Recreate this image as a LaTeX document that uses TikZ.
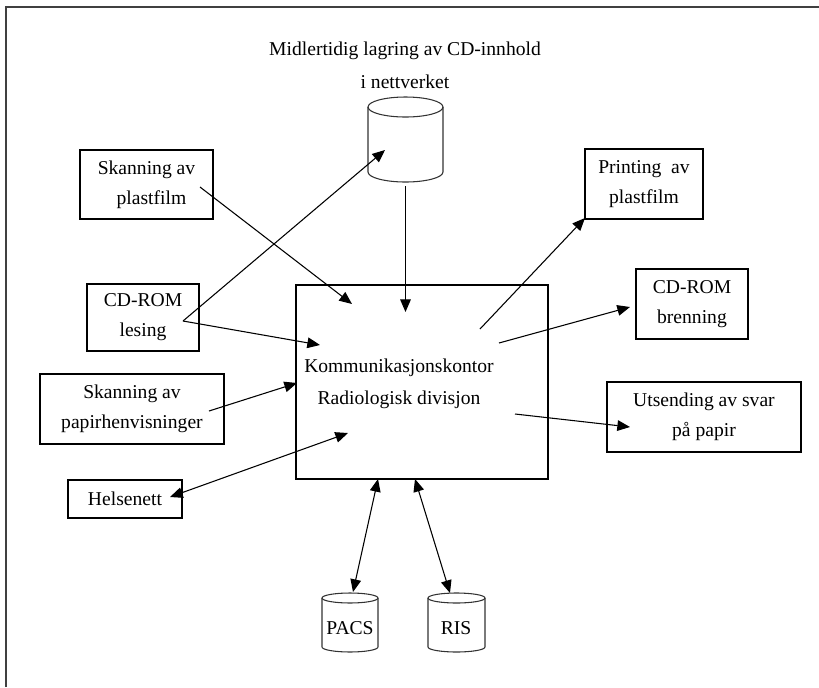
\documentclass[tikz,border=0pt]{standalone}
\usepackage{fontspec}
\setmainfont{Liberation Serif}
\usetikzlibrary{arrows.meta}
\begin{document}
\begin{tikzpicture}[x=0.75pt,y=-0.75pt,
  box/.style={draw,line width=1.7pt,align=center,inner sep=0pt,
    font=\fontsize{14.7}{22.5}\selectfont},
  conn/.style={line width=0.8pt,-{Triangle[length=9.5pt,width=8pt]}},
  biconn/.style={line width=0.8pt,{Triangle[length=9.5pt,width=8pt]}-{Triangle[length=9.5pt,width=8pt]}},
  cyl/.style={line width=0.8pt,draw=black!80},
  lbl/.style={align=center,inner sep=0pt,font=\fontsize{14.7}{24.75}\selectfont}]
\useasboundingbox (0,0) rectangle (819,687);
% outer frame (only top and left edges visible)
\draw[line width=1.6pt,black!75] (6,687) -- (6,7) -- (819,7);

% boxes
\node[box,minimum width=99.75pt,minimum height=51.75pt] (skanP) at (146.5,184.5) {Skanning av\\\ \ plastfilm};
\node[box,minimum width=84pt,minimum height=50.25pt] (cdL) at (143,317.5) {CD-ROM\\lesing};
\node[box,minimum width=88.5pt,minimum height=52.5pt] (printP) at (644,184) {Printing\ \ av\\plastfilm};
\node[box,minimum width=84pt,minimum height=52.5pt] (cdB) at (692,304) {CD-ROM\\brenning};
\node[box,minimum width=145.5pt,minimum height=52.5pt] (uts) at (704,417) {Utsending av svar\\på papir};
\node[box,minimum width=138pt,minimum height=52.5pt] (skanPap) at (132,409) {Skanning av\\papirhenvisninger};
\node[box,minimum width=85.5pt,minimum height=28.5pt] (hels) at (125,499) {Helsenett};
\node[box,minimum width=189pt,minimum height=145.5pt] (main) at (422,382) {};
\node[lbl,font=\fontsize{14.7}{24}\selectfont] (maintext) at (399,384) {Kommunikasjonskontor\\Radiologisk divisjon};

% cache cylinder
\node[lbl] (cachetext) at (405,65) {Midlertidig lagring av CD-innhold\\i nettverket};
\node[minimum width=56.25pt,minimum height=63.75pt,inner sep=0pt] (cache) at (405.5,139.5) {};
\draw[cyl] (368,107) -- (368,172) arc[start angle=180,end angle=360,x radius=28.125pt,y radius=7.5pt] -- (443,107);
\draw[cyl] (405.5,107) ellipse[x radius=28.125pt,y radius=7.5pt];

% PACS cylinder
\node[minimum width=42pt,minimum height=44pt,inner sep=0pt] (pacs) at (350,622) {};
\draw[cyl] (322,598) -- (322,647) arc[start angle=180,end angle=360,x radius=21pt,y radius=3.75pt] -- (378,598);
\draw[cyl] (350,598) ellipse[x radius=21pt,y radius=3.75pt];
\node[inner sep=0pt,font=\fontsize{14.7}{18}\selectfont] (pacstext) at (350,628) {PACS};

% RIS cylinder
\node[minimum width=42.75pt,minimum height=44pt,inner sep=0pt] (ris) at (456.5,622) {};
\draw[cyl] (428,598) -- (428,647) arc[start angle=180,end angle=360,x radius=21.375pt,y radius=3.75pt] -- (485,598);
\draw[cyl] (456.5,598) ellipse[x radius=21.375pt,y radius=3.75pt];
\node[inner sep=0pt,font=\fontsize{14.7}{18}\selectfont] (ristext) at (456,628) {RIS};

% connector end points
\coordinate (cacheOut) at (405.5,186);
\coordinate (mainTop) at (405.5,312);
\coordinate (skanPOut) at (200,187);
\coordinate (mainA) at (352,304);
\coordinate (cdLOut) at (183,321);
\coordinate (mainB) at (320,345);
\coordinate (cacheIn) at (385,150);
\coordinate (mainC) at (480,329);
\coordinate (printIn) at (585,218);
\coordinate (mainD) at (499,343);
\coordinate (cdBIn) at (630,307);
\coordinate (mainE) at (515,414);
\coordinate (utsIn) at (630,427);
\coordinate (skanPapOut) at (209,411);
\coordinate (mainF) at (297,383);
\coordinate (helsIn) at (170,497);
\coordinate (mainG) at (348,433);
\coordinate (pacsIn) at (353,592);
\coordinate (mainH) at (378,479);
\coordinate (risIn) at (450,593);
\coordinate (mainI) at (415,479);

% connectors
\draw[conn] (cacheOut) -- (mainTop);
\draw[conn] (skanPOut) -- (mainA);
\draw[conn] (cdLOut) -- (mainB);
\draw[conn] (cdLOut) -- (cacheIn);
\draw[conn] (mainC) -- (printIn);
\draw[conn] (mainD) -- (cdBIn);
\draw[conn] (mainE) -- (utsIn);
\draw[conn] (skanPapOut) -- (mainF);
\draw[biconn] (helsIn) -- (mainG);
\draw[biconn] (pacsIn) -- (mainH);
\draw[biconn] (risIn) -- (mainI);
\end{tikzpicture}
\end{document}
